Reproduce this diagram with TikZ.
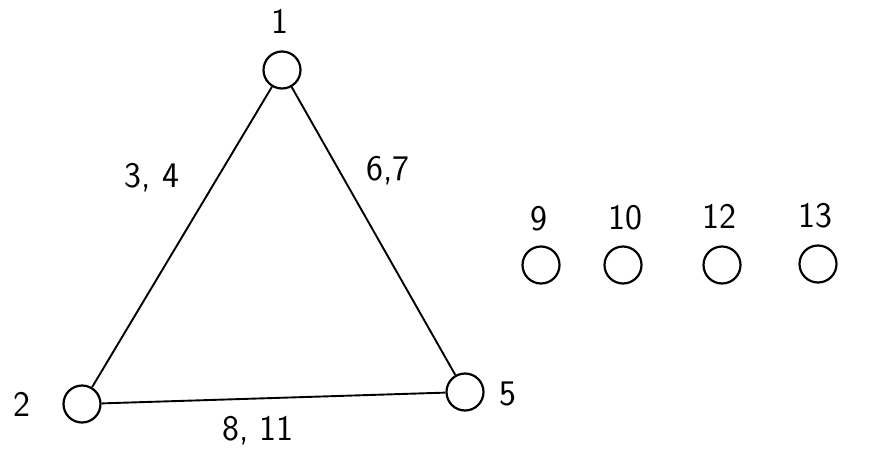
\documentclass[tikz,border=0pt]{standalone}
\begin{document}
\begin{tikzpicture}[
x=1pt,y=-1pt,
vertex/.style={circle,draw,line width=2.2pt,minimum size=37pt,inner sep=0pt},
lbl/.style={font=\sffamily\fontsize{36}{40}\selectfont,inner sep=0pt},
edge/.style={line width=1.9pt}
]
\useasboundingbox (0,0) rectangle (882,455);
% triangle
\node[vertex] (1) at (282,70) {};
\node[vertex] (2) at (82,404) {};
\node[vertex] (5) at (465,392) {};
\node[lbl] (l1) at (280,21) {1};
\node[lbl] (l2) at (22,404) {2};
\node[lbl] (l5) at (508,394) {5};
\draw[edge] (1)--(2);
\draw[edge] (1)--(5);
\draw[edge] (2)--(5);
\node[lbl] (e34) at (152,178) {3, 4};
\node[lbl] (e67) at (388,171) {6,7};
\node[lbl] (e811) at (258,431) {8, 11};
% isolated
\node[vertex] (9) at (541,265) {};
\node[vertex] (10) at (623,265) {};
\node[vertex] (12) at (722,265) {};
\node[vertex] (13) at (818,264) {};
\node[lbl] (l9) at (539,219) {9};
\node[lbl] (l10) at (625,218) {10};
\node[lbl] (l12) at (719,216) {12};
\node[lbl] (l13) at (815,216) {13};
\end{tikzpicture}
\end{document}
